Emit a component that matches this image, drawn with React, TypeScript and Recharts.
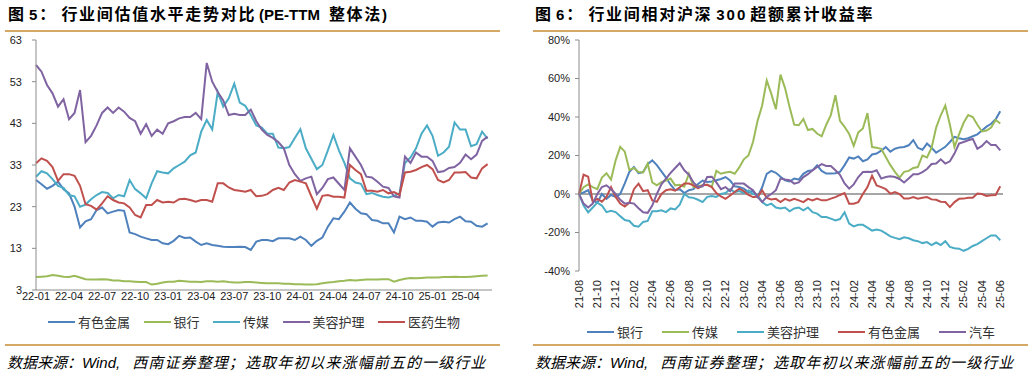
import { LineChart, Line, XAxis, YAxis, ReferenceLine } from 'recharts'

// ---- left panel: PE-TTM, half-month steps from 22-01 ----
const leftTickLabels = ['22-01', '22-04', '22-07', '22-10', '23-01', '23-04', '23-07', '23-10', '24-01', '24-04', '24-07', '24-10', '25-01', '25-04']
const leftYTicks = [3, 13, 23, 33, 43, 53, 63]

const leftMetals = [
  29.4, 28.4, 27.3, 28, 29, 27.2, 26.2, 23, 18, 19.5,
  20, 22.2, 22.8, 21.4, 21.8, 22.2, 22, 16.8, 16.4, 15.8,
  15.4, 15, 15, 14.2, 14, 14.8, 16, 15.5, 15.6, 14.6,
  13.8, 14.2, 13.8, 13.6, 13.4, 13.3, 13.3, 13.4, 13.3, 12.6,
  14.6, 15, 15, 14.7, 15.4, 15.4, 15.4, 15, 15.8, 15,
  13.6, 14.8, 15.6, 18.2, 20.2, 20, 21.8, 24, 22.5, 21.4,
  21.2, 19.8, 19.6, 19, 19, 16.8, 20.6, 20, 20.4, 19.6,
  19.6, 19.4, 18.2, 19.2, 19.4, 19.2, 20, 20.6, 19.5, 19.4,
  18.4, 18.2, 19,
]
const leftBank = [
  6.1, 6.2, 6.3, 6.6, 6.4, 6.2, 6.1, 6.4, 6.0, 5.6,
  5.5, 5.5, 5.6, 5.5, 5.3, 5.3, 5.1, 5.1, 5.0, 4.9,
  4.9, 4.3, 4.5, 4.8, 5.0, 5.0, 5.2, 5.1, 5.0, 5.0,
  4.9, 5.1, 5.1, 5.0, 5.1, 4.9, 4.8, 4.8, 4.9, 4.9,
  4.8, 4.7, 4.6, 4.6, 4.6, 4.5, 4.5, 4.4, 4.4, 4.3,
  4.3, 4.4, 4.6, 4.8, 4.9, 5.1, 5.2, 5.4, 5.3, 5.4,
  5.5, 5.5, 5.5, 5.6, 5.6, 5.0, 5.4, 5.7, 5.9, 5.8,
  5.9, 6.0, 6.0, 6.0, 6.1, 6.1, 6.2, 6.1, 6.1, 6.2,
  6.3, 6.4, 6.5,
]
const leftMedia = [
  30.2, 31.5, 31, 29.6, 28, 27.5, 25.8, 25.5, 23, 23.5,
  24.8, 25.8, 26.5, 26.3, 25, 25.8, 25.5, 29.4, 27.2, 26.2,
  25, 28.6, 31.5, 31.2, 31, 32.2, 33, 33.8, 35.3, 36,
  41, 43.8, 41.5, 50.5, 47, 49, 52.5, 48, 47.2, 45,
  42.5, 42, 40.5, 40.5, 37.2, 37, 37.3, 39.5, 41.6, 37,
  34.5, 32, 33, 36.5, 40.2, 36.5, 33.5, 29.8, 28.8, 28.5,
  26, 26.3, 25.8, 25.4, 25.2, 25.6, 26.2, 33.5, 34.8, 37,
  40.5, 42.5, 40, 35.2, 36, 37.4, 43.2, 41.5, 41.5, 37.5,
  38, 41, 39.3,
]
const leftBeauty = [
  57, 55.4, 52.2, 50.2, 47, 48.8, 44, 45.5, 51, 38.5,
  40, 42.5, 45.5, 46.8, 45.5, 46.8, 45.8, 44.3, 43.5, 40.5,
  42.8, 40, 41.5, 40.5, 43, 43.5, 44.2, 44.5, 44.5, 45.5,
  44, 57.5, 53, 50.5, 48.5, 45, 45.3, 45, 45, 46.3,
  43.5, 41.5, 40.2, 39.5, 38.5, 37, 33, 30.8, 29.2, 29.8,
  30.2, 26, 27.5, 29.6, 30, 28.5, 27, 37, 35, 33,
  30.2, 30, 29, 27.8, 27.5, 25.5, 25.2, 35, 33.5, 36,
  35, 35, 34, 31.3, 31.5, 32.3, 32.5, 33.5, 35.5, 34.4,
  35.5, 38.8, 39.8,
]
const leftPharma = [
  33.4, 34.6, 34, 32.5, 29.2, 30.8, 30.8, 30.4, 28, 23.6,
  23.2, 22.3, 23.8, 25.5, 24.6, 24, 23.8, 22.8, 21, 20.4,
  23.4, 23.4, 24.6, 24, 24.2, 24, 24.8, 24.9, 24.6, 24.2,
  24.6, 24.6, 24.2, 28.6, 28.6, 27.6, 27, 26.8, 26.6, 27,
  25.5, 25.6, 26, 27, 27.5, 27, 28.8, 29.4, 29, 28.6,
  25.5, 22.5, 25.6, 25.8, 25.4, 25.4, 25.2, 33, 31.8, 30.8,
  26.8, 26.8, 26.6, 27, 26.2, 26.5, 25.8, 31.2, 31.4, 31.8,
  32.5, 33, 32, 29.4, 28.8, 29.4, 31.2, 31.2, 31.3, 30,
  29.8, 32.2, 33.2,
]

// ---- right panel: excess return vs CSI 300 (%), half-month steps from 21-08 ----
const rightTickLabels = ['21-08', '21-10', '21-12', '22-02', '22-04', '22-06', '22-08', '22-10', '22-12', '23-02', '23-04', '23-06', '23-08', '23-10', '23-12', '24-02', '24-04', '24-06', '24-08', '24-10', '24-12', '25-02', '25-04', '25-06']
const rightYTicks = [-40, -20, 0, 20, 40, 60, 80]

const rightBank = [
  0, 0.8, 2, -3.5, -4.5, 0, -2.5, -0.5, -1.5, 0,
  5.5, 11.5, 14, 10.8, 11.4, 15.5, 17.5, 15, 11.8, 8.5,
  4.8, 2, 2.5, 0.5, 2, 2.5, 5.2, 7, 6.2, 6.5,
  7.1, 7.8, 8.8, 7, 4, 3.6, 2.8, 1, 1.6, -1.5,
  3.5, 10.5, 12, 11, 9, 7.1, 6.5, 8, 7.5, 10.5,
  12, 12.3, 14.9, 12, 10.6, 10.6, 10.8, 11.5, 15, 19,
  18.4, 19.5, 17, 18, 20.5, 21, 22.5, 24.4, 22, 23.5,
  24.2, 24.4, 25.3, 28, 24, 23, 26.2, 24, 21.5, 23,
  24.5, 27, 29.7, 29, 28.5, 29, 30, 31, 33, 35,
  36.5, 38.8, 43,
]
const rightMedia = [
  0, 3.5, 5, 3.6, 2.5, 8.5, 10.8, 7.5, 17.5, 24.5,
  22, 12.5, 13.5, 11.4, 11.2, 15.8, 6, 4.5, 6.2, 7,
  8, 4.5, 4.8, 3.8, 10.5, 3.6, 4, 4.5, 4.8, 3.8,
  12, 10.5, 11.2, 11.5, 10.5, 13.8, 18, 20, 27, 38,
  46, 59, 52, 44, 62, 55, 45, 36, 35.7, 39,
  33.2, 33.8, 31.4, 30, 36, 41, 51.3, 38, 34.9, 31.2,
  25, 32, 34, 42, 24.4, 24, 23.5, 19.2, 15, 11.5,
  8.5, 11.5, 12, 13.5, 14, 20, 19, 24, 34.5, 40.9,
  46, 36, 24.4, 31, 37, 41, 40, 36, 32.5, 33,
  34.5, 38.5, 36.6,
]
const rightBeauty = [
  0, -6, -9.5, -7, -4.5, -6, -9.4, -8.7, -9.4, -11.5,
  -13.5, -14, -16.5, -17, -14.5, -14, -9, -9, -8.5, -9.4,
  -7.5, -8, -5.5, 0, -1.7, -2, -3, -4.2, -1.5, -1,
  -1.5, 0, 0.5, 2.5, 1, 1.5, 0.5, 1.8, 0, -0.5,
  -4.2, -5.9, -5, -7, -7.5, -7, -9, -7.5, -7, -8.5,
  -7, -9.4, -10.2, -12, -12, -12.8, -13.7, -13, -9.5, -15.4,
  -16.8, -16, -16, -17.5, -19, -18.5, -19, -20.5, -22, -22.8,
  -23.5, -22.5, -23, -24, -24.5, -25.5, -25, -26.5, -25.2, -26.5,
  -24.5, -27.5, -28.2, -28.4, -29.5, -28.5, -27, -26, -24.5, -23,
  -21.5, -21.5, -24,
]
const rightMetals = [
  0, 10, 9, -4, -2.5, -4, -1.5, 3.6, -1.5, -5,
  -6.5, -4.5, 2.5, 5.4, 1.5, 2, -3.3, -4, 0, 2,
  2.5, 1.7, 3.5, 5.5, 5.4, 4.5, 3, 4.5, 4.8, 3.6,
  0.5, -1.3, -2.5, -0.8, 1, 2.8, 1.5, -0.5, -1.6, -1.5,
  1.9, -2, -2.8, -2.5, -4.2, -2.5, -3.5, -2.5, -3.3, -4.2,
  -2.5, -3.3, -2.4, -3.3, -3.3, -2.4, -1.6, -0.5, 0.5, -5,
  -5, -4.2, 0, 3.6, 9.5, 4.5, 3.6, 2.5, 0.2, 1,
  0, -2.4, -2.4, -1.6, -2.4, -2, -1.6, -2.8, -3, -4,
  -4.2, -6.8, -4.2, -2.5, -2.4, -2, -2, 0.2, 0, -1,
  -0.7, -0.5, 4,
]
const rightAuto = [
  0, -5, -7, -5, 0, 3.6, 4.5, 2.5, 0, -3,
  -5, -4.5, -5, -7.4, -9.5, -9.8, -6, 0, 5, 8,
  11, 13.5, 16, 12.3, 10, 6, 3.6, 4, 8.8, 9,
  6, 2.5, 3.6, 1.5, 5.4, 5.4, 5.4, 3.6, 2, -1.5,
  -4.2, -1.5, 0, 2, 8, 7.5, 7.2, 5.4, 6, 8.8,
  10.3, 12.3, 14, 15.5, 14.6, 14.5, 12.3, 10, 5.5, 2.8,
  5, 8.8, 11.4, 11.5, 11.4, 12.3, 8, 8.8, 9.2, 8.8,
  7.8, 6, 8, 10.2, 10.2, 11.4, 13, 15.6, 15.8, 18,
  15.8, 17, 21, 26.2, 27, 27.9, 28.6, 23.5, 25, 27.5,
  25.5, 25.5, 22.7,
]

const BLUE = '#4F81BD'
const RED = '#C0504D'
const GREEN = '#9BBB59'
const PURPLE = '#8064A2'
const CYAN = '#4BACC6'
const TAN = '#D4A966'
const AXIS = '#8C8C8C'
const LATIN = '"Liberation Sans", Arial, "Noto Sans CJK SC", sans-serif'
const CJK = '"Noto Sans CJK SC", sans-serif'

const leftData = leftMetals.map((v, i) => ({
  t: i / 2,
  metals: v,
  bank: leftBank[i],
  media: leftMedia[i],
  beauty: leftBeauty[i],
  pharma: leftPharma[i],
}))
const rightData = rightBank.map((v, i) => ({
  t: i / 2,
  bank: v,
  media: rightMedia[i],
  beauty: rightBeauty[i],
  metals: rightMetals[i],
  auto: rightAuto[i],
}))
const leftTicks = leftTickLabels.map((_, i) => i * 3)
const rightTicks = rightTickLabels.map((_, i) => i * 2)

const leftSeries = [
  { key: 'metals', name: '有色金属', color: BLUE },
  { key: 'bank', name: '银行', color: GREEN },
  { key: 'media', name: '传媒', color: CYAN },
  { key: 'beauty', name: '美容护理', color: PURPLE },
  { key: 'pharma', name: '医药生物', color: RED },
]
const rightSeries = [
  { key: 'bank', name: '银行', color: BLUE },
  { key: 'media', name: '传媒', color: GREEN },
  { key: 'beauty', name: '美容护理', color: CYAN },
  { key: 'metals', name: '有色金属', color: RED },
  { key: 'auto', name: '汽车', color: PURPLE },
]

const tickStyle = { fontSize: 11, fill: '#222', fontFamily: LATIN }

function RotatedTick({ x, y, payload }: any) {
  const label = rightTickLabels[Math.round(payload.value / 2)]
  const ty = y + 9
  return (
    <text
      x={x}
      y={ty}
      dy="0.35em"
      textAnchor="end"
      transform={`rotate(-90, ${x}, ${ty})`}
      fontSize={11}
      fill="#222"
      fontFamily={LATIN}
    >
      {label}
    </text>
  )
}

function Legend({ items, left, top, gap }: { items: typeof leftSeries; left: number; top: number; gap: number }) {
  return (
    <div style={{ position: 'absolute', left, top, display: 'flex', alignItems: 'center', gap, height: 16 }}>
      {items.map((s) => (
        <div key={s.key} style={{ display: 'flex', alignItems: 'center' }}>
          <div style={{ width: 27, height: 2, background: s.color, marginRight: 3 }} />
          <span style={{ fontFamily: CJK, fontSize: 13, color: '#333', lineHeight: '16px' }}>{s.name}</span>
        </div>
      ))}
    </div>
  )
}

type Seg = { text: string; cjk?: boolean; ml?: number; ls?: number }

function Title({ left, segs }: { left: number; segs: Seg[] }) {
  return (
    <div
      style={{
        position: 'absolute',
        left,
        top: 3,
        lineHeight: '20px',
        fontWeight: 'bold',
        color: '#000',
        whiteSpace: 'nowrap',
      }}
    >
      {segs.map((s, i) => (
        <span
          key={i}
          style={{
            display: 'inline-block',
            fontFamily: s.cjk ? CJK : LATIN,
            fontSize: s.cjk ? 16 : 15,
            letterSpacing: s.ls ?? (s.cjk ? 1.7 : 0),
            marginLeft: s.ml ?? 0,
          }}
        >
          {s.text}
        </span>
      ))}
    </div>
  )
}

const leftTitle: Seg[] = [
  { text: '图', cjk: true, ls: 0 },
  { text: '5', ml: 5 },
  { text: '：', cjk: true, ml: 2, ls: 0 },
  { text: '行业间估值水平走势对比', cjk: true, ml: 6 },
  { text: '(PE-TTM', ml: 3 },
  { text: '整体法', cjk: true, ml: 9 },
  { text: ')', ml: 0 },
]
const rightTitle: Seg[] = [
  { text: '图', cjk: true, ls: 0 },
  { text: '6', ml: 5 },
  { text: '：', cjk: true, ml: 2, ls: 0 },
  { text: '行业间相对沪深', cjk: true, ml: 6 },
  { text: '300', ml: 4, ls: 2 },
  { text: '超额累计收益率', cjk: true, ml: 3 },
]

function Footer({ left }: { left: number }) {
  return (
    <div
      style={{
        position: 'absolute',
        left,
        top: 352,
        fontSize: 15,
        lineHeight: '20px',
        fontStyle: 'italic',
        color: '#000',
        whiteSpace: 'nowrap',
      }}
    >
      <span style={{ fontFamily: CJK, letterSpacing: 0 }}>数据来源：</span>
      <span style={{ fontFamily: LATIN }}>Wind,</span>
      <span style={{ fontFamily: CJK, letterSpacing: 1.1, marginLeft: 12 }}>西南证券整理；选取年初以来涨幅前五的一级行业</span>
    </div>
  )
}

const Rule = ({ left, top, width }: { left: number; top: number; width: number }) => (
  <div style={{ position: 'absolute', left, top, width, height: 2, background: TAN }} />
)

export default function App() {
  return (
    <div style={{ position: 'fixed', left: 0, top: 0, width: 1034, height: 377, background: '#fff', overflow: 'hidden' }}>
      <Title left={8} segs={leftTitle} />
      <Title left={535} segs={rightTitle} />
      <Rule left={5} top={30} width={495} />
      <Rule left={533} top={30} width={495} />

      <div style={{ position: 'absolute', left: 0, top: 0 }}>
        <LineChart width={500} height={310} data={leftData} margin={{ top: 40, right: 8, bottom: 0, left: 0 }}>
          <XAxis
            dataKey="t"
            type="number"
            domain={[0, 41.4]}
            ticks={leftTicks}
            interval={0}
            tickFormatter={(v: number) => leftTickLabels[Math.round(v / 3)]}
            height={20}
            tickLine={false}
            tickSize={0}
            tickMargin={2}
            stroke={AXIS}
            tick={tickStyle}
          />
          <YAxis
            type="number"
            domain={[3, 63]}
            ticks={leftYTicks}
            interval={0}
            width={36}
            tickSize={4}
            tickMargin={10}
            stroke={AXIS}
            tick={tickStyle}
          />
          {leftSeries.map((s) => (
            <Line
              key={s.key}
              dataKey={s.key}
              name={s.name}
              stroke={s.color}
              strokeWidth={2}
              dot={false}
              type="linear"
              isAnimationActive={false}
            />
          ))}
        </LineChart>
      </div>

      <div style={{ position: 'absolute', left: 520, top: 0 }}>
        <LineChart width={490} height={311} data={rightData} margin={{ top: 40, right: 7, bottom: 0, left: 0 }}>
          <XAxis
            dataKey="t"
            type="number"
            domain={[0, 46.3]}
            ticks={rightTicks}
            interval={0}
            height={40}
            axisLine={false}
            tickLine={false}
            tickSize={0}
            tickMargin={0}
            tick={<RotatedTick />}
          />
          <YAxis
            type="number"
            domain={[-40, 80]}
            ticks={rightYTicks}
            interval={0}
            width={59}
            tickSize={4}
            tickMargin={5}
            stroke={AXIS}
            tick={tickStyle}
            tickFormatter={(v: number) => `${v}%`}
          />
          <ReferenceLine y={0} stroke="#A6A6A6" strokeWidth={2} />
          {rightSeries.map((s) => (
            <Line
              key={s.key}
              dataKey={s.key}
              name={s.name}
              stroke={s.color}
              strokeWidth={2}
              dot={false}
              type="linear"
              isAnimationActive={false}
            />
          ))}
        </LineChart>
      </div>

      <Legend items={leftSeries} left={48} top={314} gap={13.5} />
      <Legend items={rightSeries} left={587} top={324} gap={19} />
      <Rule left={5} top={344} width={495} />
      <Rule left={533} top={344} width={495} />
      <Footer left={7} />
      <Footer left={535} />
    </div>
  )
}
